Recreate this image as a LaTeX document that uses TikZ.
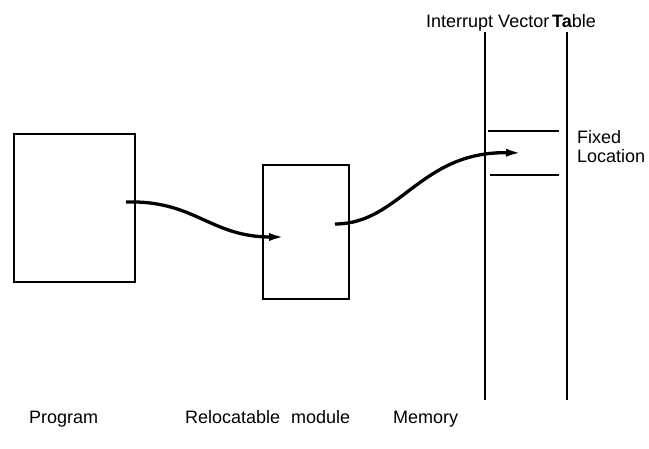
\documentclass[tikz,border=0pt]{standalone}
\usepackage{fontspec}
\setmainfont{Liberation Sans}
\usetikzlibrary{arrows.meta}
\begin{document}
\begin{tikzpicture}[x=1pt,y=-1pt,
  boxstyle/.style={draw,line width=2pt,inner sep=0pt,anchor=north west},
  lbl/.style={inner sep=0pt,anchor=base west,font=\fontsize{18}{20}\selectfont},
  memline/.style={line width=2.6pt},
  thinmem/.style={line width=1.8pt},
  slotline/.style={line width=1.8pt},
  flow/.style={line width=3.3pt,-{Latex[length=17pt,width=8pt]}}]
\useasboundingbox (0,0) rectangle (649,448);
\node[boxstyle,minimum width=121pt,minimum height=148pt] (prog) at (13,133) {};
\node[boxstyle,minimum width=86pt,minimum height=134pt] (reloc) at (262,164) {};
\coordinate (m1t) at (485,32);
\coordinate (m1m) at (485,303);
\coordinate (m1b) at (485,400);
\coordinate (m2t) at (567,32);
\coordinate (m2b) at (567,400);
\draw[thinmem] (m1t) -- (m1m);
\draw[memline] (m1m) -- (m1b);
\draw[memline] (m2t) -- (m2b);
\coordinate (s1a) at (488,131);
\coordinate (s1b) at (559,131);
\coordinate (s2a) at (490,175);
\coordinate (s2b) at (559,175);
\draw[slotline] (s1a) -- (s1b);
\draw[slotline] (s2a) -- (s2b);
\coordinate (a1s) at (126,202);
\coordinate (a1e) at (286,237);
\coordinate (a2s) at (335,224);
\coordinate (a2e) at (523,153);
\draw[flow] (a1s) .. controls (195,200) and (210,237) .. (a1e);
\draw[flow] (a2s) .. controls (400,224) and (420,151) .. (a2e);
\node[lbl] (ivt) at (426,27) {Interrupt Vector};
\node[lbl] (tab) at (552,27) {\textbf{Ta}ble};
\node[lbl] (fx) at (577,143) {Fixed};
\node[lbl] (loc) at (577,162) {Location};
\node[lbl] (lp) at (29,423) {Program};
\node[lbl] (lr) at (185,423) {Relocatable};
\node[lbl] (lm) at (291,423) {module};
\node[lbl] (lmem) at (393,423) {Memory};
\end{tikzpicture}
\end{document}
